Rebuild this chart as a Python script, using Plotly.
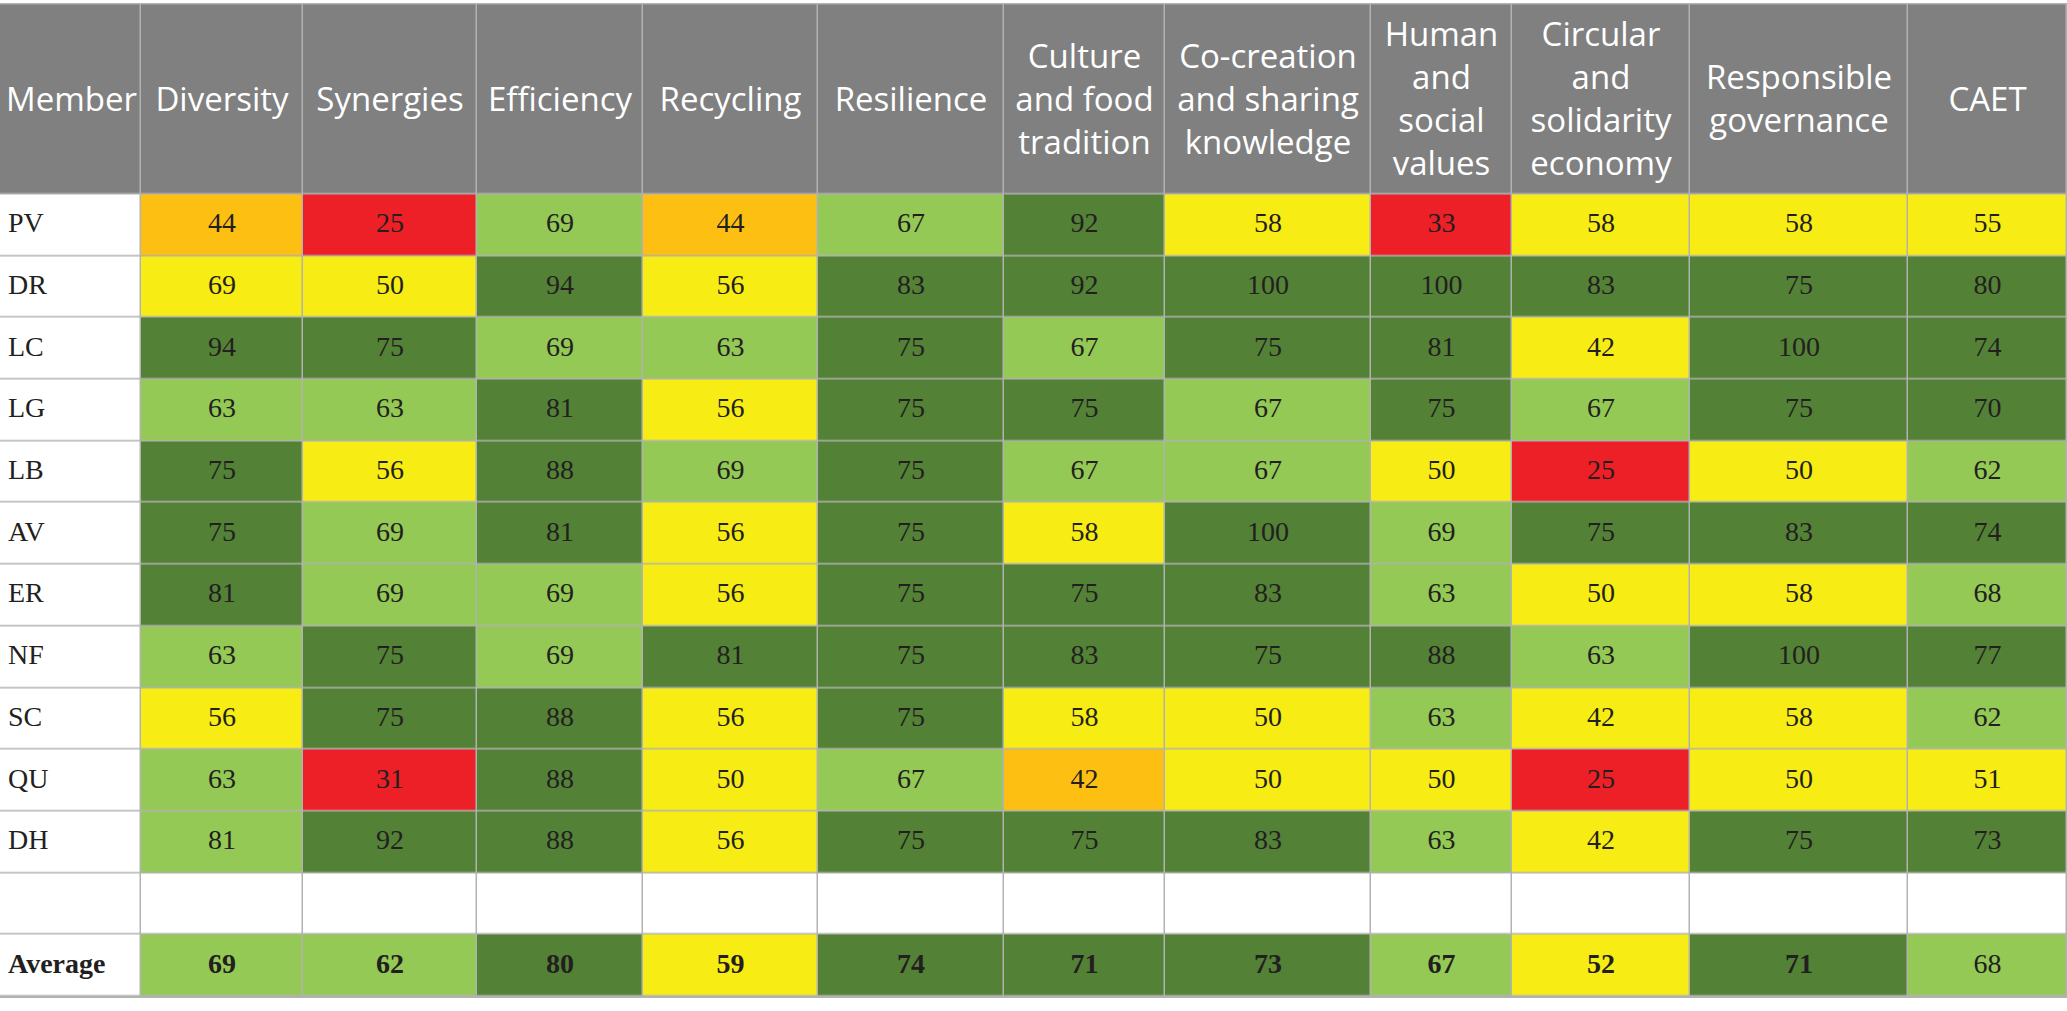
import numpy as np
import plotly.graph_objects as go

members = ["PV", "DR", "LC", "LG", "LB", "AV", "ER", "NF", "SC", "QU", "DH", "", "Average"]

headers = [
    "Member", "Diversity", "Synergies", "Efficiency", "Recycling", "Resilience",
    "Culture<br>and food<br>tradition", "Co-creation<br>and sharing<br>knowledge",
    "Human<br>and<br>social<br>values", "Circular<br>and<br>solidarity<br>economy",
    "Responsible<br>governance", "CAET",
]

diversity = [44, 69, 94, 63, 75, 75, 81, 63, 56, 63, 81]
synergies = [25, 50, 75, 63, 56, 69, 69, 75, 75, 31, 92]
efficiency = [69, 94, 69, 81, 88, 81, 69, 69, 88, 88, 88]
recycling = [44, 56, 63, 56, 69, 56, 56, 81, 56, 50, 56]
resilience = [67, 83, 75, 75, 75, 75, 75, 75, 75, 67, 75]
culture = [92, 92, 67, 75, 67, 58, 75, 83, 58, 42, 75]
cocreation = [58, 100, 75, 67, 67, 100, 83, 75, 50, 50, 83]
human = [33, 100, 81, 75, 50, 69, 63, 88, 63, 50, 63]
circular = [58, 83, 42, 67, 25, 75, 50, 63, 42, 25, 42]
governance = [58, 75, 100, 75, 50, 83, 58, 100, 58, 50, 75]
caet = [55, 80, 74, 70, 62, 74, 68, 77, 62, 51, 73]

averages = [69, 62, 80, 59, 74, 71, 73, 67, 52, 71, 68]

# rating level of each cell as coloured in the source
# (R red, O orange, Y yellow, L light green, G dark green)
levels = [
    "OYGLGGGLYLL",   # Diversity
    "RYGLYLLGGRG",   # Synergies
    "LGLGGGLLGGG",   # Efficiency
    "OYLYLYYGYYY",   # Recycling
    "LGGGGGGGGLG",   # Resilience
    "GGLGLYGGYOG",   # Culture
    "YGGLLGGGYYG",   # Co-creation
    "RGGGYLLGLYL",   # Human
    "YGYLRGYLYRY",   # Circular
    "YGGGYGYGYYG",   # Governance
    "YGGGLGLGLYG",   # CAET
]
avg_levels = "LLGYGGGLYGL"

# ---- layout / styling ----
col_widths = [141, 162, 174, 166, 175, 186, 161, 206, 141, 178, 218, 159]
header_h = 190
row_h = 61.7

palette = ["white", "#EE2027", "#FDBF12", "#F7EC13", "#93C954", "#538136", "#808080"]
code = {"W": 0, "R": 1, "O": 2, "Y": 3, "L": 4, "G": 5, "H": 6}

x_edges = np.concatenate([[0], np.cumsum(col_widths)])
y_edges = np.concatenate([[0], header_h + row_h * np.arange(len(members) + 1)])
x_mid = (x_edges[:-1] + x_edges[1:]) / 2
y_mid = (y_edges[:-1] + y_edges[1:]) / 2

series = [diversity, synergies, efficiency, recycling, resilience, culture,
          cocreation, human, circular, governance, caet]

# colour codes: header row + one row per member
z = [[code["H"]] * len(headers)]
for r in range(len(members)):
    row = [code["W"]]
    for c in range(len(series)):
        if r < len(series[c]):
            row.append(code[levels[c][r]])
        elif members[r] == "Average":
            row.append(code[avg_levels[c]])
        else:
            row.append(code["W"])
    z.append(row)

n = len(palette)
colorscale = []
for i, col in enumerate(palette):
    colorscale.append([i / n, col])
    colorscale.append([(i + 1) / n, col])

fig = go.Figure()
fig.add_trace(go.Heatmap(
    x=x_edges, y=y_edges, z=z,
    colorscale=colorscale, zmin=-0.5, zmax=n - 0.5,
    showscale=False, xgap=1.5, ygap=1.5, hoverinfo="skip",
))

# header labels
fig.add_trace(go.Scatter(
    x=[x_edges[0] + 6] + list(x_mid[1:]),
    y=[y_mid[0] + 3] * len(headers),
    mode="text", text=headers,
    textposition=["middle right"] + ["middle center"] * (len(headers) - 1),
    textfont=dict(family="Open Sans", size=33, color="white"),
    hoverinfo="skip", showlegend=False,
))

# member names
fig.add_trace(go.Scatter(
    x=[x_edges[0] + 8] * len(members),
    y=list(y_mid[1:]),
    mode="text",
    text=["<b>" + m + "</b>" if m == "Average" else m for m in members],
    textposition="middle right",
    textfont=dict(family="Liberation Serif", size=28, color="#231F20"),
    hoverinfo="skip", showlegend=False,
))

# scores
xs, ys, txt = [], [], []
for c, vals in enumerate(series):
    for r, v in enumerate(vals):
        xs.append(x_mid[c + 1])
        ys.append(y_mid[r + 1])
        txt.append(str(v))
    avg = averages[c]
    xs.append(x_mid[c + 1])
    ys.append(y_mid[members.index("Average") + 1])
    # CAET average is printed in regular weight in the source
    txt.append(str(avg) if c == len(series) - 1 else "<b>" + str(avg) + "</b>")

fig.add_trace(go.Scatter(
    x=xs, y=ys, mode="text", text=txt, textposition="middle center",
    textfont=dict(family="Liberation Serif", size=28, color="#231F20"),
    hoverinfo="skip", showlegend=False,
))

fig.update_xaxes(visible=False, range=[x_edges[0], x_edges[-1]], fixedrange=True)
fig.update_yaxes(visible=False, range=[y_edges[-1] + 1.5, y_edges[0] - 1.5], fixedrange=True)

fig.update_layout(
    width=2067,
    height=1011,
    margin=dict(l=0, r=0, t=3, b=13),
    paper_bgcolor="white",
    plot_bgcolor="#B2B2B2",
    showlegend=False,
)

# drop the browser's default page margin so the table sits flush with the window
fig.write_html(
    "out.html",
    config={"displayModeBar": False},
    post_script="document.body.style.margin = '0';",
)
